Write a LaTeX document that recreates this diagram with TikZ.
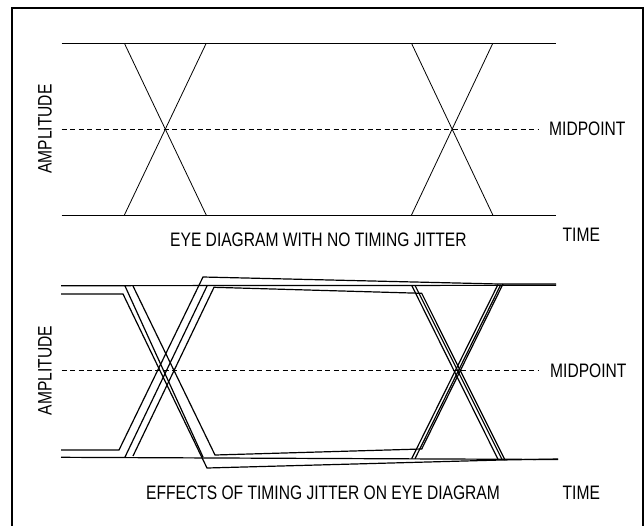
\documentclass[tikz,border=0pt]{standalone}
\usepackage{fontspec}
\setmainfont{Liberation Sans}[FakeStretch=0.8]
\begin{document}
\begin{tikzpicture}[x=1pt,y=-1pt,
  trace/.style={line width=1.2pt, line join=miter},
  ideal/.style={line width=0.8pt},
  mid/.style={line width=0.8pt, dash pattern=on 5pt off 3.5pt},
  lbl/.style={inner sep=0pt, font=\fontsize{19.5}{19.5}\selectfont}]
\useasboundingbox (0,0) rectangle (644,525);
\draw[line width=2pt] (12,527) -- (12,8) -- (643,8) -- (643,527);

% ---------- upper diagram: no jitter ----------
\draw[ideal] (61.5,43.3) -- (555.5,43.3);
\draw[ideal] (61.5,215) -- (555.5,215);
\draw[ideal] (124.4,43.3) -- (206.2,215);
\draw[ideal] (206.2,43.3) -- (124.4,215);
\draw[ideal] (411.5,43.3) -- (492.8,215);
\draw[ideal] (492.8,43.3) -- (411.5,215);
\draw[mid] (61.5,129) -- (538,129);

\node[lbl, anchor=west] (mp1) at (549,129) {MIDPOINT};
\node[lbl, anchor=west] (t1) at (562.5,235) {TIME};
\node[lbl, anchor=west] (ti1) at (170,240) {EYE DIAGRAM WITH NO TIMING JITTER};
\node[lbl, rotate=90] (a1) at (45,129) {AMPLITUDE};

% ---------- lower diagram: with jitter ----------
% long level lines
\draw[trace] (61,285.7) -- (556,285.3);
\draw[trace] (61,457.3) -- (558,459.5);
% extreme traces
\draw[trace] (61,294) -- (123,294) -- (207,468) -- (501,460) -- (558,459);
\draw[trace] (61,450) -- (119,450) -- (203,277) -- (499,284) -- (556,284);
% late traces
\draw[trace] (133,286) -- (215,455) -- (421.7,449) -- (503,284);
\draw[trace] (133,456) -- (214,287.3) -- (421.7,293.3) -- (505,460);
% other transitions, left crossing
\draw[trace] (125,286) -- (203,457);
\draw[trace] (125,457) -- (207,286);
% other transitions, right crossing
\draw[trace] (411.7,285.4) -- (498,459.3);
\draw[trace] (415,285.4) -- (502,459.4);
\draw[trace] (411.7,458.6) -- (498,284.5);
\draw[trace] (415,458.7) -- (500.7,284.8);
\draw[mid] (61.5,370.5) -- (538,370.5);

\node[lbl, anchor=west] (mp2) at (550,370.5) {MIDPOINT};
\node[lbl, anchor=west] (t2) at (562.5,493) {TIME};
\node[lbl, anchor=west] (ti2) at (146,492.5) {EFFECTS OF TIMING JITTER ON EYE DIAGRAM};
\node[lbl, rotate=90] (a2) at (45,370.5) {AMPLITUDE};
\end{tikzpicture}
\end{document}
